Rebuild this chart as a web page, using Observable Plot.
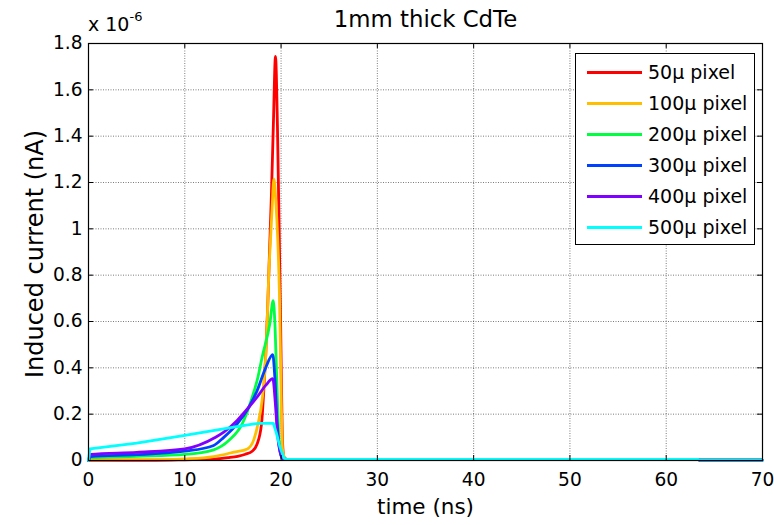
<!DOCTYPE html>
<html><head><meta charset="utf-8">
<script src="https://cdn.jsdelivr.net/npm/d3@7"></script>
<script src="https://cdn.jsdelivr.net/npm/@observablehq/plot@0.6"></script>
<style>
body{margin:0;background:#fff;}
#wrap{position:relative;width:774px;height:525px;font-family:"DejaVu Sans",sans-serif;color:#000;}
#wrap svg{display:block;}
#exp{position:absolute;left:88px;top:13px;font-size:19px;line-height:1;}
#exp sup{font-size:13px;position:relative;top:-3px;}
#legend{position:absolute;left:575px;top:53px;width:178px;height:190px;border:1px solid #000;background:#fff;}
.row{position:absolute;left:0;height:20px;}
.row .sw{position:absolute;left:11px;top:9px;width:55px;height:3px;}
.row .lb{position:absolute;left:72px;top:-2px;font-size:19px;white-space:nowrap;line-height:24px;}
</style></head><body><div id="wrap"></div>
<script>
const series = ["50μ pixel","100μ pixel","200μ pixel","300μ pixel","400μ pixel","500μ pixel"];
const colors = ["#ff0000","#ffbf00","#00ff40","#0040ff","#8000ff","#00ffff"];
const xTicks = [0,10,20,30,40,50,60,70];
const yTicks = [0,0.2,0.4,0.6,0.8,1,1.2,1.4,1.6,1.8];
const titleText = "1mm thick CdTe";
const xLabel = "time (ns)";
const yLabel = "Induced current (nA)";

const t50 = [0,0.2,7,10,13,14.5,15.5,16.3,17,17.5,17.97,18.2,18.4,18.6,18.8,19.0,19.2,19.42,19.62,19.8,19.95,20.05,20.15,20.3,20.6,63.3,63.5,70];
const i50 = [0,0.001,0.001,0.003,0.006,0.012,0.018,0.027,0.04,0.07,0.158,0.3,0.45,0.65,0.9,1.15,1.45,1.744,1.45,1.0,0.6,0.3,0.08,0.015,0.005,0.005,0.002,0.002];

const t100 = [0,0.2,7.5,10,13,15.1,16.5,17.17,17.6,18.03,18.4,18.55,18.72,18.9,19.07,19.25,19.45,19.66,19.83,20.0,20.15,20.4,20.6,63.3,63.5,70];
const i100 = [0,0.003,0.004,0.007,0.017,0.036,0.05,0.09,0.158,0.26,0.446,0.59,0.8,0.95,1.09,1.216,1.12,0.95,0.72,0.3,0.05,0.01,0.005,0.005,0.002,0.002];

const t200 = [0,0.2,5,10,13,14.57,15.96,16.9,17.6,18.03,18.83,19.18,19.35,19.55,19.75,19.95,20.2,20.6,63.3,63.5,70];
const i200 = [0,0.012,0.018,0.026,0.046,0.086,0.158,0.26,0.36,0.446,0.59,0.69,0.6,0.35,0.12,0.03,0.01,0.005,0.005,0.002,0.002];

const t300 = [0,0.2,5,10,13,14.05,15.44,16.65,17.5,18.4,19.14,19.35,19.6,19.85,20.1,20.6,63.3,63.5,70];
const i300 = [0,0.017,0.025,0.04,0.065,0.1,0.158,0.23,0.3,0.4,0.457,0.36,0.158,0.05,0.01,0.005,0.005,0.002,0.002];

const t400 = [0,0.2,5,10,13.2,14.05,15.44,16.65,17.5,18.4,19.14,19.4,19.6,19.8,20.2,20.6,63.3,63.5,70];
const i400 = [0,0.026,0.035,0.05,0.1,0.122,0.173,0.23,0.273,0.324,0.353,0.25,0.13,0.057,0.01,0.005,0.005,0.002,0.002];

const t500 = [0,0.15,5,10,15.1,17.2,17.8,19.2,19.5,19.9,20.3,20.6,63.3,63.5,70];
const i500 = [0,0.05,0.075,0.108,0.144,0.158,0.16,0.16,0.12,0.057,0.01,0.005,0.005,0.002,0.002];

const times = [t50,t100,t200,t300,t400,t500];
const currents = [i50,i100,i200,i300,i400,i500];

const data = [];
series.forEach((s, k) => times[k].forEach((t, j) => data.push({series: s, t, v: currents[k][j]})));
const peaked = data.filter(d => d.series !== series[5]);
const plateau = data.filter(d => d.series === series[5]);

const W = 774, H = 525, ML = 88, MR = 12, MT = 43, MB = 65;
const FH = H - MT - MB, FW = W - ML - MR;
const font = "'DejaVu Sans', sans-serif";
const fmtY = d => String(Math.round(d * 10) / 10);

const chart = Plot.plot({
  width: W, height: H,
  marginLeft: ML, marginRight: MR, marginTop: MT, marginBottom: MB,
  style: {fontFamily: font, fontSize: "18.6px", color: "#000", background: "#fff", overflow: "visible"},
  x: {domain: [0, 70]},
  y: {domain: [0, 1.8]},
  color: {domain: series, range: colors},
  marks: [
    Plot.gridX(xTicks, {stroke: "#000", strokeOpacity: 0.65, strokeWidth: 0.8, strokeDasharray: "1,1.5"}),
    Plot.gridY(yTicks, {stroke: "#000", strokeOpacity: 0.65, strokeWidth: 0.8, strokeDasharray: "1,1.5"}),
    Plot.line(peaked, {x: "t", y: "v", z: "series", stroke: "series", strokeWidth: 2.8, curve: "monotone-x"}),
    Plot.line(plateau, {x: "t", y: "v", z: "series", stroke: "series", strokeWidth: 2.8, curve: "linear"}),
    Plot.tickX(xTicks, {x: d => d, insetTop: FH - 5, stroke: "#000"}),
    Plot.tickX(xTicks, {x: d => d, insetBottom: FH - 5, stroke: "#000"}),
    Plot.tickY(yTicks, {y: d => d, insetRight: FW - 5, stroke: "#000"}),
    Plot.tickY(yTicks, {y: d => d, insetLeft: FW - 5, stroke: "#000"}),
    Plot.frame({stroke: "#000", strokeWidth: 1.2}),
    Plot.axisX(xTicks, {tickSize: 0, tickPadding: 12, fontSize: 18.6, label: null}),
    Plot.axisY(yTicks, {tickSize: 0, tickPadding: 6, tickFormat: fmtY, fontSize: 18.6, label: null}),
    Plot.text([xLabel], {frameAnchor: "bottom", dy: 38, fontSize: 21.5, lineAnchor: "top", textAnchor: "middle"}),
    Plot.text([yLabel], {frameAnchor: "left", dx: -53, dy: 2, rotate: -90, fontSize: 24, lineAnchor: "middle", textAnchor: "middle"}),
    Plot.text([titleText], {frameAnchor: "top", dy: -24, fontSize: 22.8, lineAnchor: "middle", textAnchor: "middle"})
  ]
});

const wrap = document.getElementById("wrap");
wrap.appendChild(chart);

const exp = document.createElement("div");
exp.id = "exp";
exp.innerHTML = "x 10<sup>-6</sup>";
wrap.appendChild(exp);

const leg = document.createElement("div");
leg.id = "legend";
series.forEach((s, k) => {
  const r = document.createElement("div");
  r.className = "row";
  r.style.top = (8 + k * 31) + "px";
  r.innerHTML = `<div class="sw" style="background:${colors[k]}"></div><div class="lb">${s}</div>`;
  leg.appendChild(r);
});
wrap.appendChild(leg);
</script></body></html>
